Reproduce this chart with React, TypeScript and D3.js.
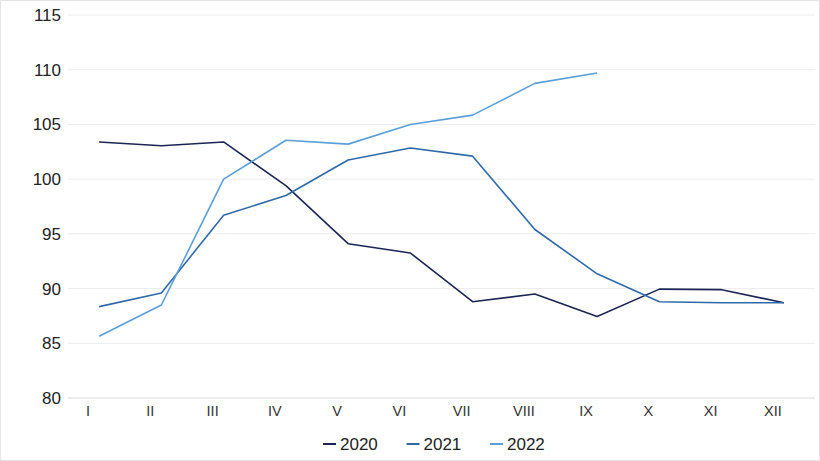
import { useRef, useEffect } from 'react';
import * as d3 from 'd3';

const months = ['I', 'II', 'III', 'IV', 'V', 'VI', 'VII', 'VIII', 'IX', 'X', 'XI', 'XII'];
const yTicks = [80, 85, 90, 95, 100, 105, 110, 115];

const values2020 = [103.4, 103.05, 103.4, 99.4, 94.1, 93.25, 88.8, 89.5, 87.45, 89.95, 89.9, 88.7];
const values2021 = [88.35, 89.6, 96.7, 98.5, 101.75, 102.85, 102.1, 95.4, 91.35, 88.8, 88.7, 88.7];
const values2022 = [85.65, 88.5, 100.0, 103.55, 103.2, 105.0, 105.85, 108.75, 109.7];

const series = [
  { name: '2020', values: values2020, color: '#1c2654' },
  { name: '2021', values: values2021, color: '#2f6aa8' },
  { name: '2022', values: values2022, color: '#5a9fd8' },
];

const W = 820;
const H = 461;

export default function App() {
  const svgRef = useRef<SVGSVGElement>(null);

  useEffect(() => {
    if (!svgRef.current) return;
    const svg = d3.select(svgRef.current);
    svg.selectAll('*').remove();

    const font = 'Liberation Sans, Arial, sans-serif';

    svg.append('rect')
      .attr('x', 0.5).attr('y', 0.5)
      .attr('width', W - 1).attr('height', H - 1)
      .attr('fill', '#fff')
      .attr('stroke', '#e4e4e4');

    // Scales
    const x = d3.scaleBand<string>()
      .domain(months)
      .range([68, 815]);

    const y = d3.scaleLinear()
      .domain([80, 115])
      .range([398, 15]);

    // Grid
    svg.append('g')
      .selectAll('line')
      .data(yTicks)
      .join('line')
      .attr('x1', 68)
      .attr('x2', 815)
      .attr('y1', d => y(d))
      .attr('y2', d => y(d))
      .attr('stroke', d => (d === 80 ? '#d9d9d9' : '#ececec'))
      .attr('stroke-width', 1);

    // Y labels
    svg.append('g')
      .selectAll('text')
      .data(yTicks)
      .join('text')
      .attr('x', 61)
      .attr('y', d => y(d))
      .attr('dy', '0.35em')
      .attr('text-anchor', 'end')
      .attr('font-family', font)
      .attr('font-size', 17)
      .attr('fill', '#222')
      .text(d => d);

    // X labels
    svg.append('g')
      .selectAll('text')
      .data(months)
      .join('text')
      .attr('x', d => (x(d) as number) + x.bandwidth() / 2 - 11)
      .attr('y', 416)
      .attr('text-anchor', 'middle')
      .attr('font-family', font)
      .attr('font-size', 14.5)
      .attr('fill', '#333')
      .text(d => d);

    // Lines
    const line = d3.line<number>()
      .x((_, i) => (x(months[i]) as number) + x.bandwidth() / 2)
      .y(d => y(d));

    series.forEach(s => {
      svg.append('path')
        .datum(s.values)
        .attr('fill', 'none')
        .attr('stroke', s.color)
        .attr('stroke-width', 1.6)
        .attr('stroke-linejoin', 'round')
        .attr('d', line);
    });

    // Legend
    const legendX = d3.scalePoint<string>()
      .domain(series.map(s => s.name))
      .range([323, 490]);

    const legend = svg.append('g')
      .selectAll('g')
      .data(series)
      .join('g')
      .attr('transform', d => `translate(${legendX(d.name)},444)`);

    legend.append('line')
      .attr('x1', 0).attr('x2', 13)
      .attr('y1', 0).attr('y2', 0)
      .attr('stroke', d => d.color)
      .attr('stroke-width', 2);

    legend.append('text')
      .attr('x', 17)
      .attr('dy', '0.35em')
      .attr('font-family', font)
      .attr('font-size', 17)
      .attr('fill', '#222')
      .text(d => d.name);
  }, []);

  return (
    <svg
      ref={svgRef}
      width={W}
      height={H}
      style={{ position: 'absolute', left: 0, top: 0, display: 'block' }}
    />
  );
}
